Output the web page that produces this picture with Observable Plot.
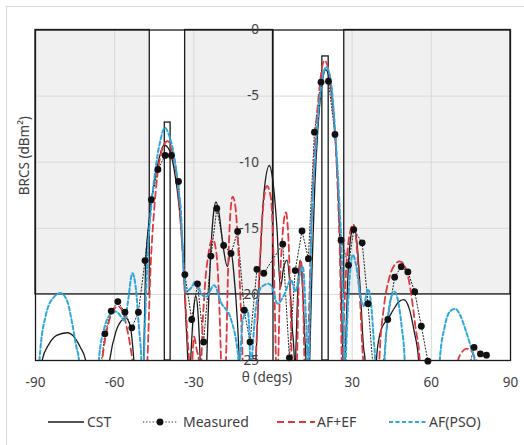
<!DOCTYPE html>
<html><head><meta charset="utf-8">
<script src="https://cdn.jsdelivr.net/npm/d3@7"></script>
<script src="https://cdn.jsdelivr.net/npm/@observablehq/plot@0.6"></script>
<style>
body{margin:0;width:524px;height:445px;overflow:hidden;background:#fff;font-family:"Noto Sans",sans-serif;}
#frame{position:absolute;left:6px;top:6px;width:540px;height:460px;border:1px solid #d9d9d9;}
#chart{position:absolute;left:0;top:0;}
#legend{position:absolute;left:0;top:410px;width:524px;height:24px;}
</style></head>
<body>
<div id="frame"></div>
<div id="chart"></div>
<svg id="legend" width="524" height="24"></svg>
<script>
const xTicks = [-90, -60, -30, 30, 60, 90];
const yTicks = [0, -5, -10, -15, -20, -25];
const gridXv = [-60, -30, 30, 60];
const gridYv = [-5, -10, -15, -20];

// mask boxes
const boxX1 = [-90, -33.3, 27];
const boxX2 = [-46.7, 0, 90];
const boxTop = [0, 0, 0];
const boxBottom = [-20, -20, -20];
// narrow beam rectangles
const beamX1 = [-41, 18.7];
const beamX2 = [-38.8, 21.1];
const beamTop = [-7, -2];

const cstX = [-89,-87.5,-85,-82,-78,-75,-73,-71,-69.5,
 -63.5,-61.9,-59.5,-57.5,-55.8,-54,-52.7,-51.5,
 -50,-49,-48.3,-47,-45,-43,-41.3,-39.5,-37.5,-35.5,-34,-33,-32.3,-31.9,
 -31.2,-30.2,-29.3,-28.4,-27.6,-27.2,
 -25.5,-25.1,-23.5,-22.5,-21.6,-20.5,-19,-17.3,-16,-14.8,-13.5,-12.8,-12.4,
 -7,-6.5,-5,-3.5,-1.4,0,1.5,2.8,4,5.3,6.3,7.3,8.1,8.2,
 8.7,9.4,10.3,11.2,12,12.5,12.9,
 13.5,13.9,14.8,15.8,17,18.5,20,21.5,23,24.3,25.5,26.5,26.9,
 27.3,28.3,29.5,30.7,32,33.3,34.3,34.9,35.4,
 38.8,39.2,40.2,41.1,42.5,43.7,45.5,47.5,49.5,51.5,53.5,55.2,55.8];
const cstY = [-28,-25,-23.8,-23.1,-22.9,-23.3,-24,-25,-28,
 -28,-25,-22.8,-22.0,-21.8,-22.5,-25,-28,
 -28,-25,-18,-14.5,-11.5,-9.6,-8.7,-9.0,-10.5,-13.5,-17.5,-22,-25,-28,
 -25,-21.5,-20.1,-21.5,-25,-28,
 -28,-25,-16.5,-13.8,-13.0,-13.8,-16.2,-17.9,-16.7,-18.5,-22,-25,-28,
 -28,-25,-18,-12.5,-10.25,-11.5,-15,-19.5,-18,-17.4,-19,-22.5,-25,-28,
 -24,-19.5,-17.4,-19.5,-23,-25,-28,
 -28,-25,-18,-12,-7.5,-4.2,-3.0,-3.9,-6.5,-10.5,-17,-25,-28,
 -25,-19,-15.6,-14.8,-16.5,-20.5,-24,-25,-28,
 -28,-25,-23.3,-22.6,-22.1,-21.8,-21.2,-20.6,-20.4,-21,-22.8,-25,-28];

const measX = [-66.2,-63.7,-61.3,-58.8,-56.1,-53.5,-51.0,-48.5,-46.1,-43.6,-40.9,-38.5,-35.8,-33.4,-30.8,-28.6,-26.3,-23.5,-21.3,-18.7,-15.9,-13.4,-10.9,-8.7,-6.1,-3.5,
 3.7,6.2,8.4,11.0,13.4,15.7,18.2,21.0,23.5,25.8,28.6,30.6,33.8,36.0,38.5,41.0,43.5,46.1,48.6,51.1,53.7,56.2,58.7,61.2,73.7,76.2,78.6,80.9];
const measY = [-27,-22.98,-21.26,-20.54,-21.35,-22.53,-21.35,-17.44,-12.84,-10.55,-9.49,-9.49,-11.46,-18.5,-21.9,-19.2,-23.6,-17.1,-13.5,-16.3,-16.9,-15.24,-21.2,-23.6,-18.1,-18.4,
 -16.2,-24.8,-18.2,-15.2,-17.3,-7.73,-3.95,-3.87,-7.9,-15.9,-17.8,-15.1,-16.1,-20.7,-27,-27,-21.9,-18.7,-17.9,-18.3,-19.8,-22.4,-25.05,-27,-26,-24.0,-24.5,-24.6];

const afefX = [-66,-64.7,-62.5,-60.5,-58.7,-57,-55.3,-54,-53.3,-52.5,
 -48.5,-47.6,-46.5,-45,-43.5,-41.8,-40,-38.2,-36.5,-35,-33.5,-32.3,-31.8,-31.3,
 -30.6,-29.9,-28.9,-28.1,-27.6,
 -27.3,-27.1,-26,-24.5,-22.9,-21.5,-20.5,-19.7,-19.3,
 -18.2,-17.8,-17,-16.2,-15.3,-14.3,-13.3,-12.3,-11.5,-11,
 -7,-6.5,-5.3,-4,-2.3,-0.8,0.2,0.8,1.1,1.4,
 1.7,2.0,3,4.9,6,6.8,7.1,7.5,
 8.7,9.1,9.8,10.6,11.3,11.9,12.3,
 12.8,13.2,14.5,15.8,17.3,19.5,21.5,23,24.5,25.5,26.0,26.2,
 26.6,27.5,29,30.4,31.8,33,34,34.2,34.6,
 39.8,40.3,42,44,46,48,50,52,54,55.6,56,
 69.7,70.1,71.5,73.3,75.3,76.5,77.2,77.6];
const afefY = [-28,-25,-22.3,-21.2,-20.9,-21.3,-22.6,-24,-25,-28,
 -28,-25,-18.5,-13.5,-10.5,-8.9,-8.4,-9.2,-11,-14.5,-19.5,-23.5,-25,-28,
 -25,-23.2,-24.2,-25,-28,
 -28,-25,-20,-17,-15.8,-16.8,-20,-25,-28,
 -28,-25,-18,-14,-12.6,-13.3,-16,-20.5,-25,-28,
 -28,-25,-19,-14,-11.8,-12.7,-17,-22,-25,-28,
 -28,-25,-17.5,-13.8,-16.5,-22,-25,-28,
 -28,-25,-19,-17.5,-19.5,-25,-28,
 -28,-25,-15,-9,-5,-2.3,-3.5,-6.5,-12,-18.5,-25,-28,
 -24,-19,-15.5,-14.7,-16.5,-20.5,-24.5,-25,-28,
 -28,-25,-21,-18.8,-17.8,-17.5,-17.9,-19.5,-22.5,-25,-28,
 -28,-25,-24.4,-24.1,-24.3,-24.8,-25,-28];

const psoX = [-89,-88.5,-86,-83,-80.5,-78,-76,-74.5,-73.5,-73,
 -66.6,-66,-64,-62,-59.5,-57.5,-56.2,-55,-53.3,-52,-50.8,-49.9,-49.5,
 -49.3,-48.9,-47.5,-46.3,-44.5,-42.5,-41,-39.5,-37.5,-35.8,-34.9,-34,
 -33,-31,-29.2,-27.3,-25.4,-22.3,-19.7,-15.9,-13.3,-12.8,-11.5,-9.7,-8.9,-8.6,-6.5,-4.6,-1.9,-0.8,1.8,4.3,6.8,8.5,9.5,11.3,12.3,13,13.2,
 14.5,16,17.8,20.2,22,23.5,25,26.2,27,27.2,
 27.6,28.8,30.2,31.5,33,34.3,36,37.3,38.2,38.7,39,
 41.9,42.3,43.5,44.8,46.1,47.4,48.8,49.9,50.3,
 62.8,63.2,65,67,69.1,71,73,75,76.4,76.8];
const psoY = [-27,-25,-21.5,-20.2,-19.9,-20.5,-22.3,-24,-25,-27,
 -27,-25,-22.6,-21.6,-21.3,-21.7,-22.0,-20.6,-18.4,-19.5,-22.5,-25,-28,
 -28,-25,-17,-13.7,-10.5,-8.2,-7.4,-7.9,-9.5,-12,-13.7,-17.5,
 -19.8,-19.5,-19.0,-19.9,-20.2,-19.3,-20.6,-21.9,-24.5,-25.5,-22,-21.2,-23,-25.5,-21,-19.5,-19.2,-19.3,-20.7,-20,-18.9,-19.8,-19,-17.9,-21,-25,-28,
 -15.5,-9.5,-5,-2.8,-4,-7.5,-12.5,-18,-25,-28,
 -25,-19.5,-17.0,-17.8,-20,-20.9,-19.6,-21,-23.5,-25,-28,
 -28,-25,-21.8,-20.2,-19.8,-20.5,-22.5,-25,-28,
 -28,-25,-22.5,-21.3,-21.1,-21.6,-22.7,-24,-25,-28];

const toRows = (xs, ys) => xs.map((x, i) => ({x, y: ys[i]}));
const cst = toRows(cstX, cstY);
const meas = toRows(measX, measY);
const afef = toRows(afefX, afefY);
const pso = toRows(psoX, psoY);
const boxes = boxX1.map((x1, i) => ({x1, x2: boxX2[i], y1: boxBottom[i], y2: boxTop[i]}));
const beams = beamX1.map((x1, i) => ({x1, x2: beamX2[i], y1: -25, y2: beamTop[i]}));

const FONT = '"Noto Sans", sans-serif';
const TXT = "#404040";
const RED = "#e0383f";
const BLUE = "#2ea7dc";

const chart = Plot.plot({
  width: 524, height: 445,
  marginLeft: 35, marginRight: 14, marginTop: 29.5, marginBottom: 85,
  x: {domain: [-90, 90], axis: null},
  y: {domain: [-25, 0], axis: null},
  style: {fontFamily: FONT, fontSize: "13.5px", background: "transparent", overflow: "visible"},
  marks: [
    Plot.rect(boxes, {x1: "x1", x2: "x2", y1: "y1", y2: "y2", fill: "#f0f0f0"}),
    Plot.ruleX(gridXv, {stroke: "#d9d9d9", strokeWidth: 1}),
    Plot.ruleY(gridYv, {stroke: "#d9d9d9", strokeWidth: 1}),
    Plot.rect(boxes, {x1: "x1", x2: "x2", y1: "y1", y2: "y2", fill: "none", stroke: "#1a1a1a", strokeWidth: 1.3}),
    Plot.rect(beams, {x1: "x1", x2: "x2", y1: "y1", y2: "y2", fill: "none", stroke: "#1a1a1a", strokeWidth: 1.3}),
    Plot.ruleX([0], {stroke: "#1a1a1a", strokeWidth: 1.3}),
    Plot.line(cst, {x: "x", y: "y", stroke: "#1a1a1a", strokeWidth: 1.3, curve: "monotone-x", clip: true}),
    Plot.line(meas, {x: "x", y: "y", stroke: "#222", strokeWidth: 1, strokeDasharray: "1.2,2", clip: true}),
    Plot.line(afef, {x: "x", y: "y", stroke: RED, strokeWidth: 1.8, strokeDasharray: "7,4", curve: "monotone-x", clip: true}),
    Plot.line(pso, {x: "x", y: "y", stroke: BLUE, strokeWidth: 2, strokeDasharray: "4,2.5", curve: "monotone-x", clip: true}),
    Plot.dot(meas.filter(d => d.y >= -25.1), {x: "x", y: "y", r: 3.4, fill: "#111", stroke: "none"}),
    Plot.frame({stroke: "#1a1a1a", strokeWidth: 1.3}),
    Plot.text(yTicks, {x: 0, y: d => d, text: d => String(d), dx: -14, textAnchor: "end", fill: TXT, fontSize: 13.5}),
    Plot.text(xTicks, {x: d => d, y: -25, text: d => String(d), dy: 22, fill: TXT, fontSize: 13.5}),
    Plot.text(["θ (degs)"], {frameAnchor: "bottom", dx: -6, dy: 21, fill: TXT, fontSize: 13.5}),
    Plot.text(["BRCS (dBm²)"], {frameAnchor: "left", dx: -11, rotate: -90, fill: TXT, fontSize: 13.5})
  ]
});
document.getElementById("chart").appendChild(chart);

// legend
const legendItems = [
  {label: "CST", x1: 48, x2: 84, tx: 87, stroke: "#1a1a1a", dash: null, w: 1.3, dot: false},
  {label: "Measured", x1: 143, x2: 177, tx: 183, stroke: "#222", dash: "1.2,2", w: 1, dot: true},
  {label: "AF+EF", x1: 277, x2: 315, tx: 317, stroke: RED, dash: "7,4", w: 1.8, dot: false},
  {label: "AF(PSO)", x1: 389, x2: 427, tx: 429, stroke: BLUE, dash: "4,2.5", w: 2, dot: false}
];
const lg = d3.select("#legend");
for (const it of legendItems) {
  lg.append("line").attr("x1", it.x1).attr("x2", it.x2).attr("y1", 12).attr("y2", 12)
    .attr("stroke", it.stroke).attr("stroke-width", it.w).attr("stroke-dasharray", it.dash);
  if (it.dot) lg.append("circle").attr("cx", (it.x1 + it.x2) / 2).attr("cy", 12).attr("r", 3.4).attr("fill", "#111");
  lg.append("text").attr("x", it.tx).attr("y", 12).attr("dy", "0.35em").attr("fill", TXT)
    .attr("font-family", FONT).attr("font-size", 14).text(it.label);
}
</script>
</body></html>
